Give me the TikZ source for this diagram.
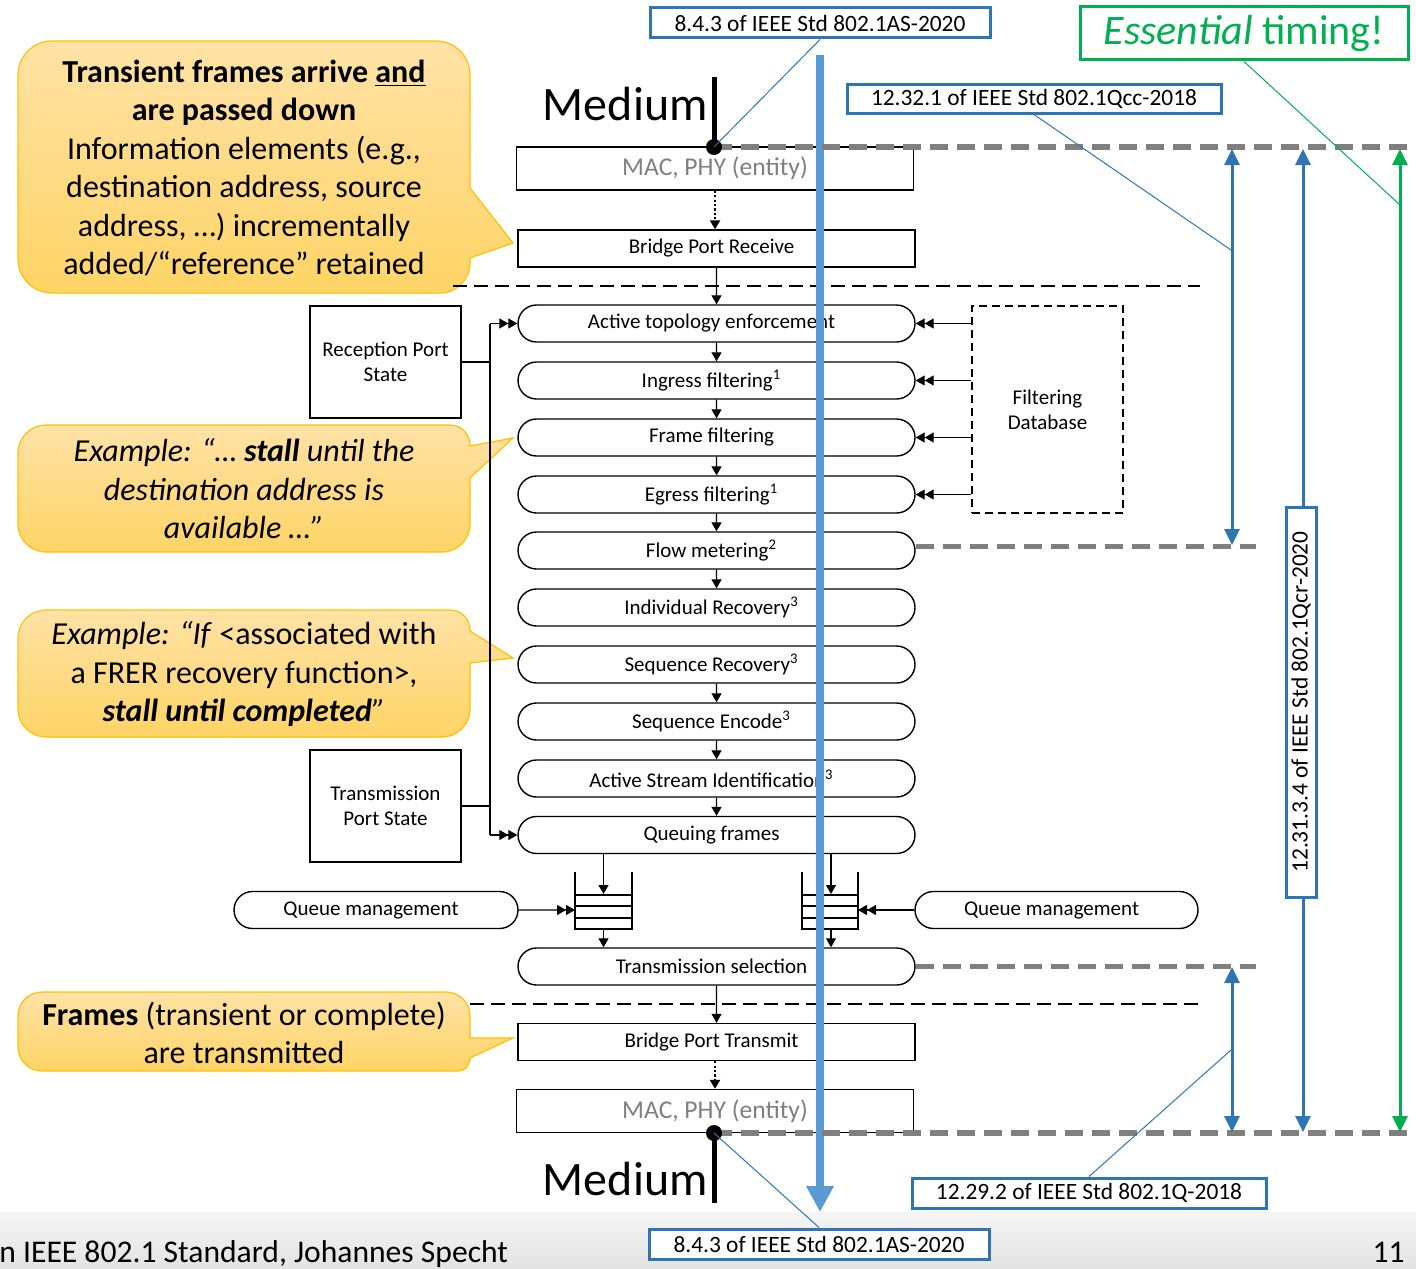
\documentclass[tikz,border=0pt]{standalone}
\usepackage{fontspec}
\setmainfont{Carlito}
\usetikzlibrary{arrows.meta,shapes.misc}

\definecolor{azulclaro}{HTML}{5B9BD5}
\definecolor{azul}{HTML}{2E75B6}
\definecolor{verde}{HTML}{00B050}
\definecolor{gris}{HTML}{7F7F7F}
\definecolor{borde}{HTML}{FFC000}
\definecolor{globoalto}{HTML}{FFE2A6}
\definecolor{globobajo}{HTML}{FFD466}

\tikzset{
  etapa/.style={draw, rounded rectangle, minimum width=198.5pt, minimum height=18.5pt, inner sep=0pt, line width=0.7pt, font=\fontsize{10.5pt}{12.6pt}\selectfont, execute at end node=\hspace*{5pt}},
  caja/.style={draw, rectangle, minimum width=198.5pt, minimum height=18.5pt, inner sep=0pt, line width=0.7pt, font=\fontsize{10.5pt}{12.6pt}\selectfont},
  puerto/.style={caja, execute at end node=\hspace*{5pt}},
  entidad/.style={caja, minimum height=21.5pt, text=gris, font=\fontsize{12.8pt}{14pt}\selectfont},
  estado/.style={caja, minimum width=75.5pt, minimum height=56pt, align=center},
  norma/.style={draw=azul, fill=white, line width=1.5pt, minimum width=170pt, minimum height=15pt, inner sep=0pt, font=\fontsize{11.7pt}{14pt}\selectfont},
  medio/.style={anchor=base east, inner sep=0pt, font=\fontsize{24pt}{28pt}\selectfont},
  globo/.style={draw=borde, line width=0.6pt, top color=globoalto, bottom color=globobajo},
  globotexto/.style={align=center, inner sep=0pt, font=\fontsize{16pt}{19.2pt}\selectfont},
  flecha/.style={line width=0.6pt, -{Triangle[length=4.5pt,width=5pt]}},
  punteada/.style={flecha, line width=1.1pt, dash pattern=on 1.1pt off 1.1pt},
  doble/.style={line width=0.6pt, -{Triangle[length=4.5pt,width=5pt]Triangle[length=4.5pt,width=5pt]}},
  corte/.style={line width=0.6pt, dash pattern=on 7pt off 3.5pt},
  limite/.style={gris, line width=2.6pt, dash pattern=on 9pt off 4.5pt},
  cota/.style={azul, line width=1.5pt, {Triangle[length=8pt,width=7.5pt]}-{Triangle[length=8pt,width=7.5pt]}},
  guia/.style={azul, line width=0.5pt}
}

\begin{document}
\begin{tikzpicture}[x=0.5pt,y=-0.5pt]
  \useasboundingbox (0,0) rectangle (1416,1268);
  \shade[top color=white!96!black, bottom color=white!89!black] (0,1212) rectangle (1416,1268);
  \node[anchor=base west, inner sep=0pt, font=\fontsize{15.8pt}{19pt}\selectfont] (pie) at (-1,1262) {n IEEE 802.1 Standard, Johannes Specht};
  \node[anchor=base east, inner sep=0pt, font=\fontsize{15.8pt}{19pt}\selectfont] (pagina) at (1405,1262) {11};

  \draw[globo] (470,258) [rounded corners=15pt] -- (470,293) [rounded corners=17pt] -- (18,293) -- (18,41) -- (470,41) [sharp corners] -- (470,188) -- (513,243) -- cycle;
  \node[globotexto] (llegada) at (244,168) {\textbf{Transient frames arrive \underline{and}}\\\textbf{are passed down}\\Information elements (e.g.,\\destination address, source\\address, …) incrementally\\added/“reference” retained};

  \draw[globo] (470,478) [rounded corners=14pt] -- (470,552) -- (18,552) -- (18,425) [rounded corners=10pt] -- (470,425) [sharp corners] -- (470,446) -- (513,438) -- cycle;
  \node[globotexto, font=\fontsize{16pt}{19.2pt}\selectfont\itshape] (ejemplouno) at (244,489) {Example: “… \textbf{stall} until the\\destination address is\\available …”};

  \draw[globo] (470,663) [rounded corners=14pt] -- (470,737) -- (18,737) -- (18,610) [rounded corners=10pt] -- (470,610) [sharp corners] -- (470,631) -- (513,658) -- cycle;
  \node[globotexto] (ejemplodos) at (244,674) {\textit{Example: “If} <associated with\\a FRER recovery function>,\\\textit{\textbf{stall until completed}”}};

  \draw[globo] (470,1058) [rounded corners=6pt] -- (470,1071) [rounded corners=12pt] -- (18,1071) -- (18,992) -- (470,992) [sharp corners] -- (470,1038) -- (513,1038) -- cycle;
  \node[globotexto] (salida) at (244,1033) {\textbf{Frames} (transient or complete)\\are transmitted};

  \draw[corte] (453,286) -- (1200,286);
  \draw[corte] (470,1004) -- (1200,1004);

  \node[entidad] (macarriba) at (715,168.5) {MAC, PHY (entity)};
  \node[puerto] (recibe) at (716.5,248.5) {Bridge Port Receive};
  \node[etapa] (topologia) at (716.5,323.5) {Active topology enforcement};
  \node[etapa] (ingreso) at (716.5,380.5) {Ingress filtering\textsuperscript{1}};
  \node[etapa] (trama) at (716.5,437.5) {Frame filtering};
  \node[etapa] (egreso) at (716.5,494.5) {Egress filtering\textsuperscript{1}};
  \node[etapa] (flujo) at (716.5,550.5) {Flow metering\textsuperscript{2}};
  \node[etapa] (individual) at (716.5,607.5) {Individual Recovery\textsuperscript{3}};
  \node[etapa] (secuencia) at (716.5,664.5) {Sequence Recovery\textsuperscript{3}};
  \node[etapa] (codifica) at (716.5,721.5) {Sequence Encode\textsuperscript{3}};
  \node[etapa] (activa) at (716.5,778.5) {Active Stream Identification\textsuperscript{3}};
  \node[etapa] (cola) at (716.5,835) {Queuing frames};
  \node[etapa] (seleccion) at (716.5,966.5) {Transmission selection};
  \node[puerto] (transmite) at (716.5,1042) {Bridge Port Transmit};
  \node[entidad] (macabajo) at (715,1111) {MAC, PHY (entity)};

  \draw[punteada] (macarriba.south) -- (macarriba.south |- recibe.north);
  \draw[flecha] (recibe) -- (topologia);
  \draw[flecha] (topologia) -- (ingreso);
  \draw[flecha] (ingreso) -- (trama);
  \draw[flecha] (trama) -- (egreso);
  \draw[flecha] (egreso) -- (flujo);
  \draw[flecha] (flujo) -- (individual);
  \draw[flecha] (secuencia) -- (codifica);
  \draw[flecha] (codifica) -- (activa);
  \draw[flecha] (activa) -- (cola);
  \draw[flecha] (seleccion) -- (transmite);
  \draw[punteada] (transmite.south -| macabajo) -- (macabajo.north);

  \node[estado] (recepcion) at (385.5,362) {Reception Port\\State};
  \node[estado] (transmision) at (385.5,806) {Transmission\\Port State};
  \coordinate (busarriba) at (490,323.5);
  \coordinate (busabajo) at (490,835);
  \draw[line width=0.6pt] (recepcion.east) -| (busarriba);
  \draw[line width=0.6pt] (transmision.east) -| (busabajo);
  \draw[line width=0.6pt] (busarriba) -- (busabajo);
  \draw[doble] (busarriba) -- (topologia.west);
  \draw[doble] (busabajo) -- (cola.west);

  \node[caja, dash pattern=on 4pt off 2.5pt, minimum width=75.5pt, minimum height=103.5pt, align=center] (filtrado) at (1047.5,409.5) {Filtering\\Database};
  \draw[doble] (filtrado.west |- topologia) -- (topologia.east);
  \draw[doble] (filtrado.west |- ingreso) -- (ingreso.east);
  \draw[doble] (filtrado.west |- trama) -- (trama.east);
  \draw[doble] (filtrado.west |- egreso) -- (egreso.east);

  \draw[line width=1pt] (575,872) -- (575,929) -- (632,929) -- (632,872) (575,895) -- (632,895) (575,906) -- (632,906) (575,918) -- (632,918);
  \draw[line width=1pt] (802,872) -- (802,929) -- (858,929) -- (858,872) (802,895) -- (858,895) (802,906) -- (858,906) (802,918) -- (858,918);
  \coordinate (colaizq) at (603.5,894);
  \coordinate (colaizqfondo) at (603.5,929);
  \coordinate (colader) at (831,894);
  \coordinate (coladerfondo) at (831,929);
  \draw[flecha] (cola.south -| colaizq) -- (colaizq);
  \draw[flecha] (cola.south -| colader) -- (colader);
  \draw[flecha] (colaizqfondo) -- (colaizqfondo |- seleccion.north);
  \draw[flecha] (coladerfondo) -- (coladerfondo |- seleccion.north);

  \node[etapa, minimum width=142pt] (gestionizq) at (376,910) {Queue management};
  \node[etapa, minimum width=141.5pt] (gestionder) at (1056.5,910) {Queue management};
  \coordinate (colaizqlado) at (575,910);
  \coordinate (coladerlado) at (858,910);
  \draw[doble] (gestionizq) -- (colaizqlado);
  \draw[doble] (gestionder) -- (coladerlado);

  \draw[azulclaro, line width=4pt, -{Triangle[length=13pt,width=13pt]}] (820,55) -- (820,1212);

  \coordinate (puntoarriba) at (714,147);
  \coordinate (puntoabajo) at (714,1133);
  \draw[limite] (puntoarriba) -- (1416,147);
  \draw[limite] ([yshift=2pt]flujo.east) -- ++(340,0);
  \draw[limite] (seleccion.east) -- ++(340,0);
  \draw[limite] (puntoabajo) -- (1416,1133);

  \node[medio] (medioarriba) at (708,120) {Medium};
  \node[medio] (medioabajo) at (708,1195) {Medium};
  \draw[line width=2.5pt] (puntoarriba) -- ++(0,-70);
  \draw[line width=2.5pt] (puntoabajo) -- ++(0,70);
  \fill (puntoarriba) circle (4pt);
  \fill (puntoabajo) circle (4pt);

  \draw[cota] (1232,149) -- (1232,545);
  \draw[cota] (1232,967) -- (1232,1132);
  \draw[cota] (1303,149) -- (1303,1132);
  \draw[cota, verde] (1400,149) -- (1400,1132);

  \node[norma] (asarriba) at (820,23) {8.4.3 of IEEE Std 802.1AS-2020};
  \node[norma, minimum width=187pt, minimum height=14pt] (qcc) at (1034,99) {12.32.1 of IEEE Std 802.1Qcc-2018};
  \node[norma, minimum width=177pt] (qdieciocho) at (1089,1193) {12.29.2 of IEEE Std 802.1Q-2018};
  \node[norma] (asabajo) at (819,1244) {8.4.3 of IEEE Std 802.1AS-2020};
  \node[norma, draw=verde, text=verde, minimum width=164pt, minimum height=26.5pt, font=\fontsize{21pt}{25pt}\selectfont] (esencial) at (1244,33.5) {\textit{Essential} timing!};

  \coordinate (marcaqcc) at (1231,250);
  \coordinate (marcaq) at (1231,1050);
  \coordinate (marcaverde) at (1400,205);
  \draw[guia] (asarriba.south) -- (puntoarriba);
  \draw[guia] (asabajo.north) -- (puntoabajo);
  \draw[guia] (qcc.south) -- (marcaqcc);
  \draw[guia] (qdieciocho.north) -- (marcaq);
  \draw[verde, line width=0.5pt] (esencial.south) -- (marcaverde);

  \node[norma, rotate=90, minimum width=195pt] (qcr) at (1301,702) {12.31.3.4 of IEEE Std 802.1Qcr-2020};
\end{tikzpicture}
\end{document}
